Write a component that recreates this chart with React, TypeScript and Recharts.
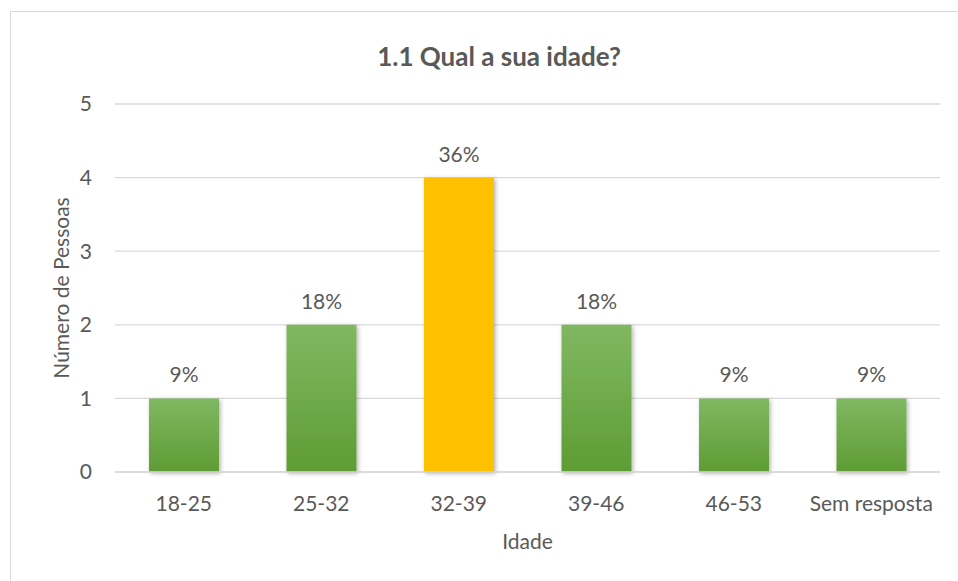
import { Bar, BarChart, CartesianGrid, Cell, LabelList, XAxis, YAxis } from "recharts";

const categories = ["18-25", "25-32", "32-39", "39-46", "46-53", "Sem resposta"];
const people = [1, 2, 4, 2, 1, 1];
const shares = ["9%", "18%", "36%", "18%", "9%", "9%"];
const yTicks = [0, 1, 2, 3, 4, 5];

const data = categories.map((idade, i) => ({ idade, pessoas: people[i], pct: shares[i] }));

const font = "Lato, 'Open Sans', sans-serif";
const grey = "#595959";

export default function App() {
  return (
    <div style={{ position: "absolute", left: 0, top: 0, width: 958, height: 581, overflow: "hidden", background: "#fff", fontFamily: font }}>
      <div
        style={{
          position: "absolute",
          left: 10,
          top: 11,
          width: 960,
          height: 580,
          border: "1px solid #d9d9d9",
          boxSizing: "border-box",
        }}
      />
      <div
        style={{
          position: "absolute",
          left: 20,
          width: 958,
          top: 40,
          textAlign: "center",
          fontSize: 26,
          fontWeight: 700,
          color: grey,
        }}
      >
        1.1 Qual a sua idade?
      </div>
      <BarChart
        width={958}
        height={581}
        data={data}
        margin={{ top: 104, right: 18, left: 0, bottom: 0 }}
        barSize={70}
        style={{ position: "absolute", left: 0, top: 0 }}
      >
        <defs>
          <linearGradient id="greenFill" x1="0" y1="0" x2="0" y2="1">
            <stop offset="0%" stopColor="#80b862" />
            <stop offset="100%" stopColor="#5e9c34" />
          </linearGradient>
          <filter id="barShadow" x="-20%" y="-20%" width="140%" height="140%">
            <feDropShadow dx="1.5" dy="1.5" stdDeviation="2" floodColor="#000" floodOpacity="0.3" />
          </filter>
        </defs>
        <CartesianGrid vertical={false} stroke="#d9d9d9" strokeWidth={1.3} />
        <XAxis
          dataKey="idade"
          height={109}
          axisLine={{ stroke: "#d9d9d9", strokeWidth: 1.3 }}
          tickLine={false}
          tickSize={0}
          tickMargin={24}
          tick={{ fill: grey, fontSize: 21, fontFamily: font }}
          label={{ value: "Idade", position: "insideTop", offset: 62, fill: grey, fontSize: 21, fontFamily: font }}
        />
        <YAxis
          width={115}
          domain={[0, 5]}
          ticks={yTicks}
          axisLine={false}
          tickLine={false}
          tickSize={0}
          tickMargin={23}
          tick={{ fill: grey, fontSize: 21, fontFamily: font }}
          label={{
            value: "Número de Pessoas",
            angle: -90,
            position: "insideLeft",
            offset: 62,
            style: { textAnchor: "middle" },
            fill: grey,
            fontSize: 21,
            fontFamily: font,
          }}
        />
        <Bar dataKey="pessoas" isAnimationActive={false} filter="url(#barShadow)">
          {data.map((row) => (
            <Cell key={row.idade} fill={row.idade === "32-39" ? "#ffc000" : "url(#greenFill)"} />
          ))}
          <LabelList dataKey="pct" position="top" offset={16} fill={grey} fontSize={21} fontFamily={font} />
        </Bar>
      </BarChart>
    </div>
  );
}
